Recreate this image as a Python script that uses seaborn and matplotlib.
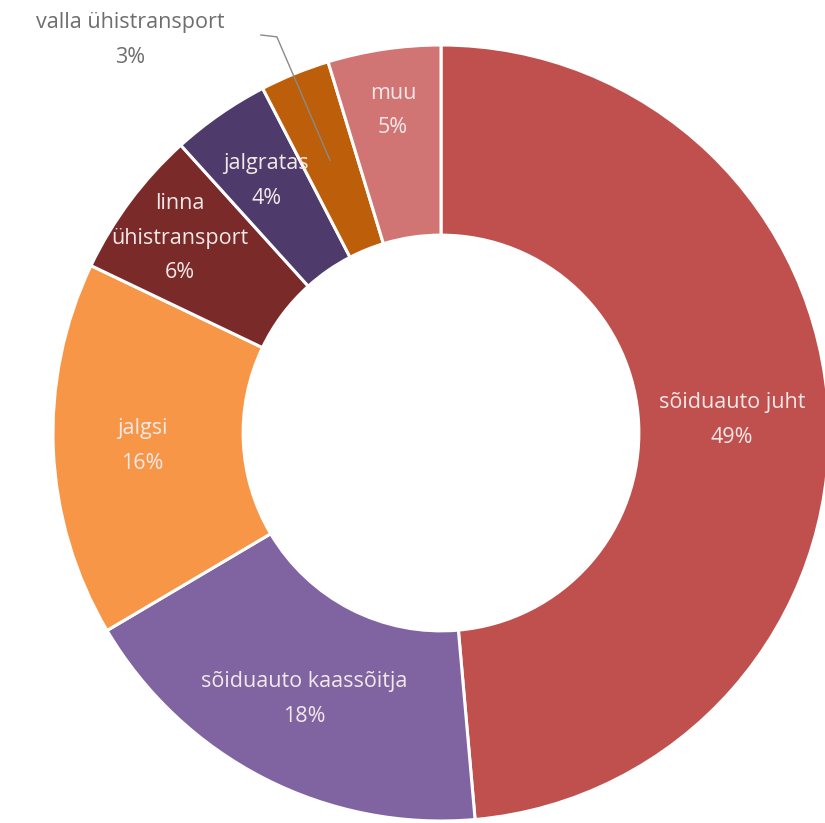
import matplotlib
matplotlib.use("Agg")
import matplotlib.pyplot as plt
import seaborn as sns
import numpy as np

sns.set_theme(style="white")
plt.rcParams['font.family'] = ['Open Sans', 'DejaVu Sans']

categories = ["sõiduauto juht", "sõiduauto kaassõitja", "jalgsi", "linna\nühistransport",
              "jalgratas", "valla ühistransport", "muu"]
values = [48.6, 17.9, 15.6, 6.2, 4.1, 2.9, 4.7]
pct_labels = ["49%", "18%", "16%", "6%", "4%", "3%", "5%"]
colors = sns.color_palette(["#C0504D", "#8064A2", "#F79646", "#7A2B29",
                            "#4E3B6B", "#BC5E0A", "#D07573"])

fig = plt.figure(figsize=(8.25, 8.23), dpi=100)
ax = fig.add_axes([0, 0, 1, 1])

wedges, _ = ax.pie(values, colors=colors, startangle=90, counterclock=False,
                   radius=1.0, wedgeprops=dict(width=0.49, edgecolor='white', linewidth=2.2))

R = 388.0
cx, cy = 441.0, 823 - 433.0
ax.set_xlim(-cx / R, (825 - cx) / R)
ax.set_ylim(-cy / R, (823 - cy) / R)
ax.set_aspect('equal', adjustable='datalim')
ax.axis('off')

label_r = {"sõiduauto juht": 0.75, "sõiduauto kaassõitja": 0.77, "jalgsi": 0.77,
           "linna\nühistransport": 0.84, "jalgratas": 0.79, "muu": 0.84}
outside = "valla ühistransport"
fs = 15.5
ls = 1.85
for w, cat, pct in zip(wedges, categories, pct_labels):
    ang = np.deg2rad((w.theta1 + w.theta2) / 2)
    if cat == outside:
        x, y = 0.757 * np.cos(ang), 0.757 * np.sin(ang)
        tx, ty = -0.80, 1.013
        ax.text(tx, ty, f"{cat}\n{pct}", ha='center', va='center', fontsize=fs,
                color='#6E6E6E', linespacing=ls)
        ax.plot([-0.466, -0.423, x], [1.026, 1.021, y],
                color='#8A8A8A', lw=1.0, solid_capstyle='butt')
    else:
        r = label_r[cat]
        x, y = r * np.cos(ang), r * np.sin(ang)
        ax.text(x, y, f"{cat}\n{pct}", ha='center', va='center', fontsize=fs,
                color='#F3E8E8', linespacing=ls)

fig.savefig("out.png", dpi=100)
